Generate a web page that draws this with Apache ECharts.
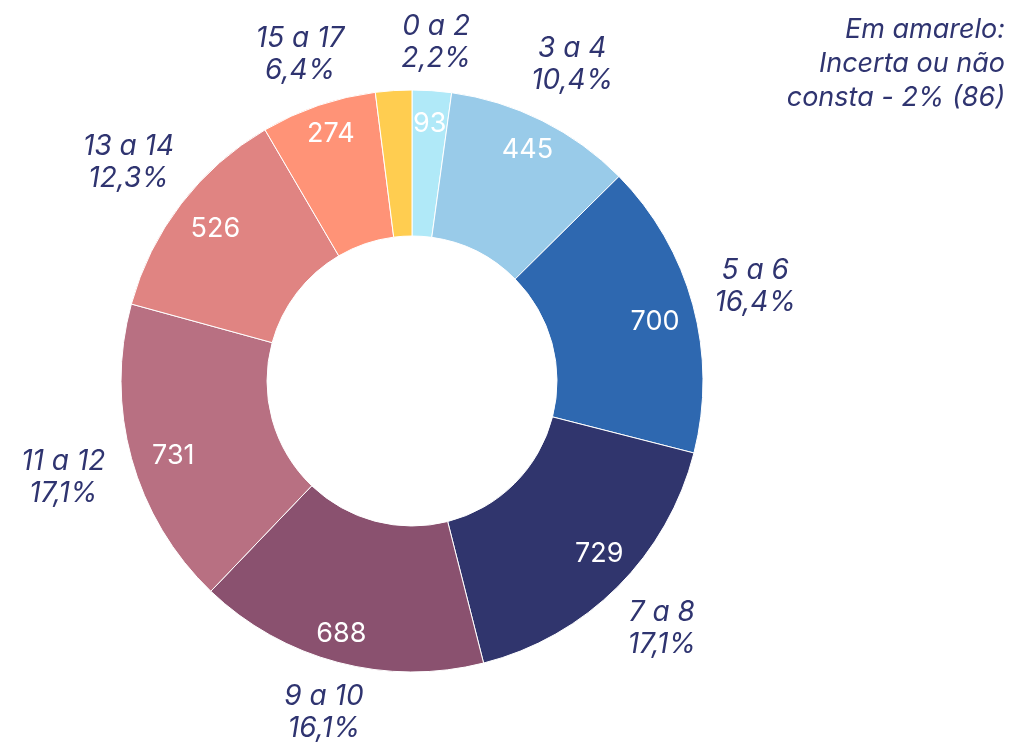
<!DOCTYPE html>
<html>
<head>
    <meta charset="UTF-8">
    <title>Idades</title>
    <script src="https://cdn.jsdelivr.net/npm/echarts@6/dist/echarts.min.js"></script>
    <style>
        html, body { margin: 0; padding: 0; background: #fff; }
    </style>
</head>
<body>
    <div id="main" style="width: 1010px;height:744px;"></div>
    <script type="text/javascript">
        // dados
        var faixas = ['0 a 2', '3 a 4', '5 a 6', '7 a 8', '9 a 10', '11 a 12', '13 a 14', '15 a 17', 'Incerta ou não consta'];
        var valores = [93, 445, 700, 729, 688, 731, 526, 274, 86];
        var cores = ['#b0e9f8', '#99cbe9', '#2e68b0', '#30356d', '#8a516f', '#b87082', '#e08482', '#ff9377', '#ffcd50'];
        var nota = ['Em amarelo:', 'Incerta ou não', 'consta - 2% (86)'];

        var total = 0;
        for (var i = 0; i < valores.length; i++) total += valores[i];

        var fonte = 'Inter, "Noto Sans", sans-serif';
        var azul = '#2f3470';
        var centro = [412, 381];

        // pequenos ajustes dos rotulos de fora (como no original)
        var ajusteFora = [[0, 14], [2, 0], [2, -2], [0, -3], [2, -10], [-8, 2], [-3, -3], [2, 8], [0, 0]];
        var ajusteDentro = [[0, 0], [0, 0], [-6, 8], [5, -10], [-5, 3], [10, 6], [8, 5], [2, -3], [0, 0]];

        var dados = [], dadosIn = [], dadosOut = [];
        for (var i = 0; i < faixas.length; i++) {
            var amarelo = (i === faixas.length - 1);
            dados.push({ name: faixas[i], value: valores[i], itemStyle: { color: cores[i] } });
            dadosIn.push({ name: faixas[i], value: valores[i], label: { show: !amarelo, offset: ajusteDentro[i] } });
            dadosOut.push({ name: faixas[i], value: valores[i], label: { show: !amarelo, offset: ajusteFora[i] } });
        }

        // nota no canto, uma linha por texto alinhada a direita
        var textos = [];
        for (var j = 0; j < nota.length; j++) {
            textos.push({
                type: 'text',
                x: 1005,
                y: 16 + j * 34,
                style: {
                    text: nota[j],
                    fontFamily: fonte, fontStyle: 'italic',
                    fontSize: 27, fill: azul,
                    align: 'right', textAlign: 'right', verticalAlign: 'top'
                }
            });
        }

        var myChart = echarts.init(document.getElementById('main'));
        myChart.setOption({
            animation: false,
            graphic: textos,
            series: [
                {
                    // aneis coloridos
                    type: 'pie',
                    center: centro,
                    radius: [145, 291],
                    startAngle: 90,
                    clockwise: true,
                    silent: true,
                    data: dados,
                    itemStyle: { borderColor: '#fff', borderWidth: 1 },
                    label: { show: false },
                    labelLine: { show: false }
                },
                {
                    // valores dentro
                    type: 'pie',
                    center: centro,
                    radius: [220, 290],
                    startAngle: 90,
                    silent: true,
                    data: dadosIn,
                    itemStyle: { color: 'rgba(0,0,0,0)' },
                    label: {
                        position: 'inside',
                        formatter: '{c}',
                        color: '#fff',
                        fontFamily: fonte,
                        fontSize: 27
                    },
                    labelLine: { show: false }
                },
                {
                    // rotulos fora
                    type: 'pie',
                    center: centro,
                    radius: [291, 410],
                    startAngle: 90,
                    silent: true,
                    data: dadosOut,
                    itemStyle: { color: 'rgba(0,0,0,0)' },
                    label: {
                        position: 'inside',
                        formatter: function (p) {
                            return p.name + '\n' + (p.value / total * 100).toFixed(1).replace('.', ',') + '%';
                        },
                        color: azul,
                        fontFamily: fonte,
                        fontStyle: 'italic',
                        fontSize: 28,
                        lineHeight: 32
                    },
                    labelLine: { show: false }
                }
            ]
        });
    </script>
</body>
</html>
